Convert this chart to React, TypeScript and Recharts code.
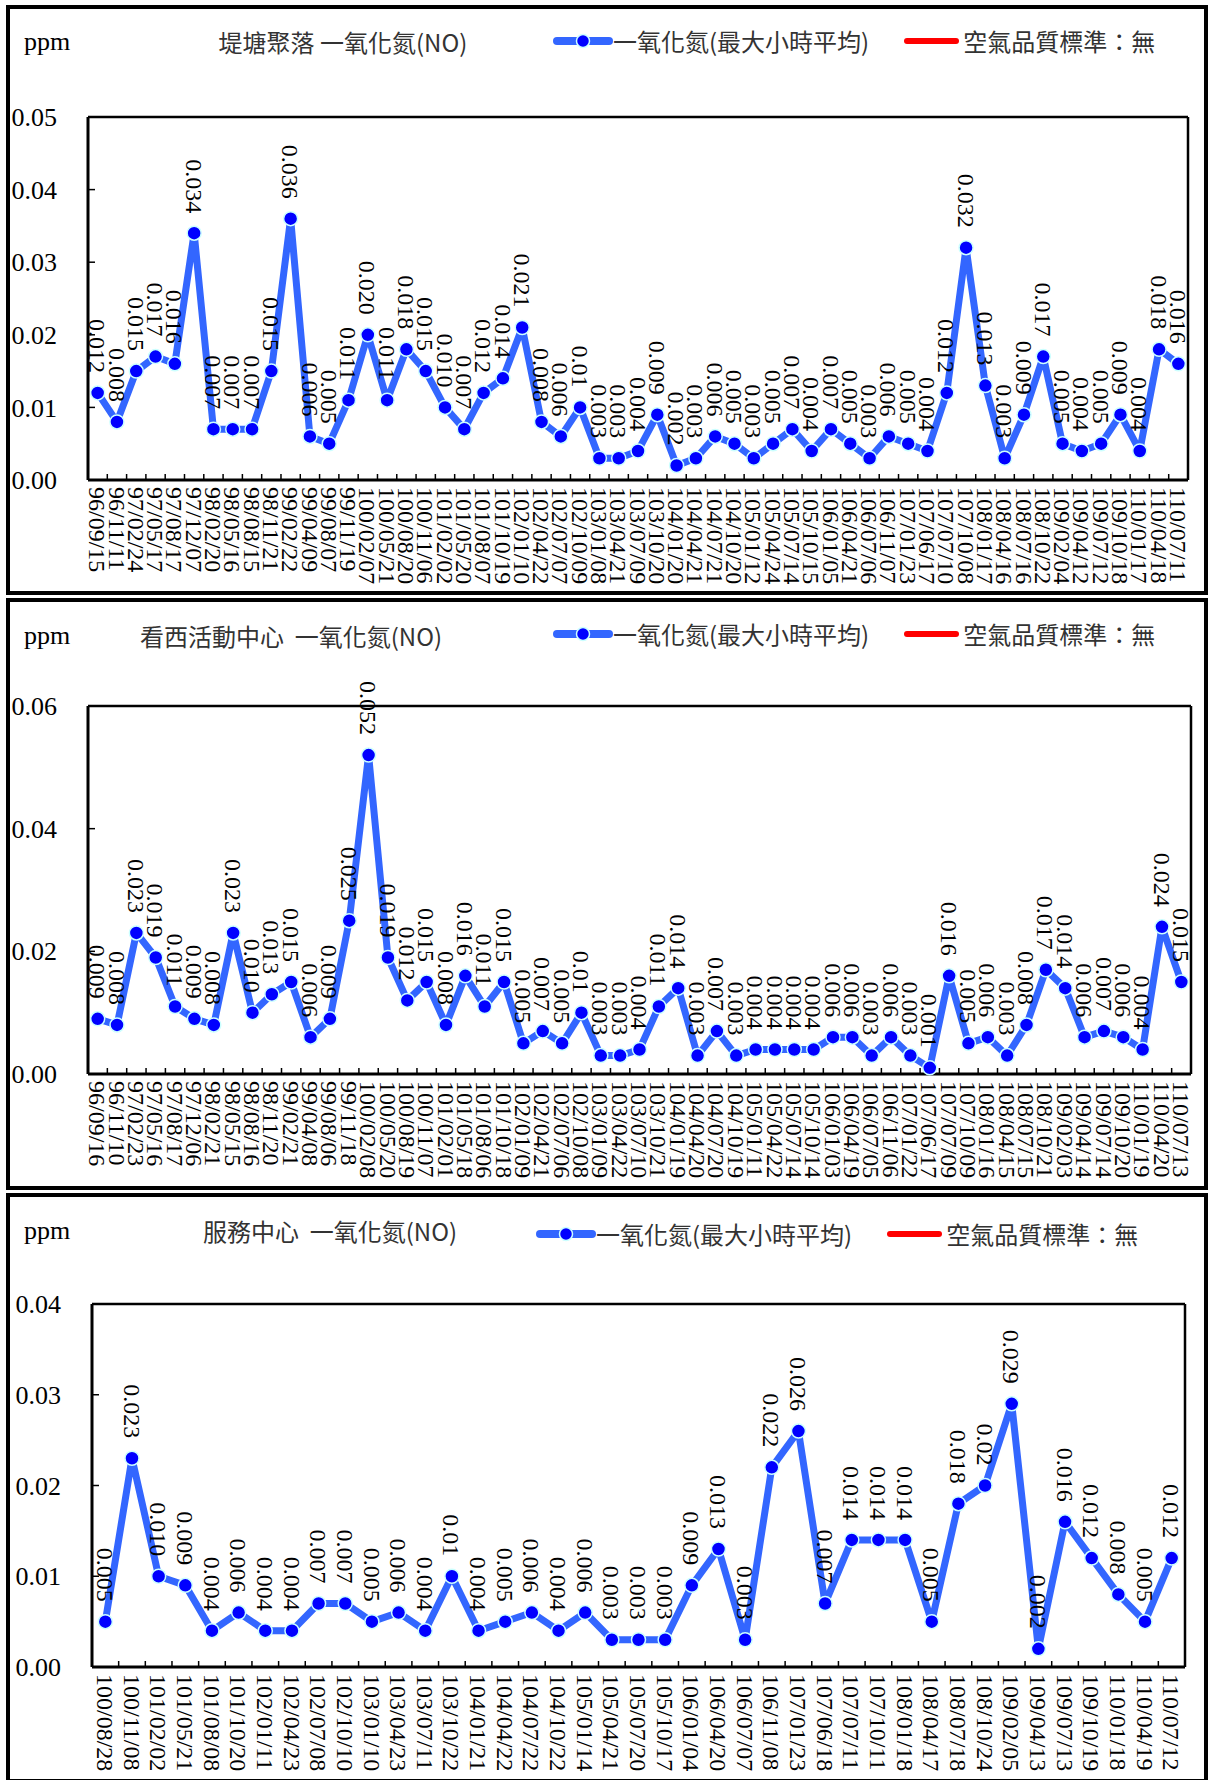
import React from 'react';
import { LineChart, Line, XAxis, YAxis, Legend, LabelList } from 'recharts';

// 堤塘聚落
const dates1 = [
  '96/09/15', '96/11/11', '97/02/24', '97/05/17', '97/08/17', '97/12/07', '98/02/20', '98/05/16',
  '98/08/15', '98/11/21', '99/02/22', '99/04/09', '99/08/07', '99/11/19', '100/02/07', '100/05/21',
  '100/08/20', '100/11/06', '101/02/02', '101/05/20', '101/08/07', '101/10/19', '102/01/10', '102/04/22',
  '102/07/07', '102/10/09', '103/01/08', '103/04/21', '103/07/09', '103/10/20', '104/01/20', '104/04/21',
  '104/07/21', '104/10/20', '105/01/12', '105/04/24', '105/07/14', '105/10/15', '106/01/05', '106/04/21',
  '106/07/06', '106/11/07', '107/01/23', '107/06/17', '107/07/10', '107/10/08', '108/01/17', '108/04/16',
  '108/07/16', '108/10/22', '109/02/04', '109/04/12', '109/07/12', '109/10/18', '110/01/17', '110/04/18',
  '110/07/11',
];
const no1 = [
  '0.012', '0.008', '0.015', '0.017', '0.016', '0.034', '0.007', '0.007', '0.007', '0.015', '0.036',
  '0.006', '0.005', '0.011', '0.020', '0.011', '0.018', '0.015', '0.010', '0.007', '0.012', '0.014',
  '0.021', '0.008', '0.006', '0.01', '0.003', '0.003', '0.004', '0.009', '0.002', '0.003', '0.006',
  '0.005', '0.003', '0.005', '0.007', '0.004', '0.007', '0.005', '0.003', '0.006', '0.005', '0.004',
  '0.012', '0.032', '0.013', '0.003', '0.009', '0.017', '0.005', '0.004', '0.005', '0.009', '0.004',
  '0.018', '0.016',
];

// 看西活動中心
const dates2 = [
  '96/09/16', '96/11/10', '97/02/23', '97/05/16', '97/08/17', '97/12/06', '98/02/21', '98/05/15',
  '98/08/16', '98/11/20', '99/02/21', '99/04/08', '99/08/06', '99/11/18', '100/02/08', '100/05/20',
  '100/08/19', '100/11/07', '101/02/01', '101/05/18', '101/08/06', '101/10/18', '102/01/09', '102/04/21',
  '102/07/06', '102/10/08', '103/01/09', '103/04/22', '103/07/10', '103/10/21', '104/01/19', '104/04/20',
  '104/07/20', '104/10/19', '105/01/11', '105/04/22', '105/07/14', '105/10/14', '106/01/03', '106/04/19',
  '106/07/05', '106/11/06', '107/01/22', '107/06/17', '107/07/09', '107/10/09', '108/01/16', '108/04/15',
  '108/07/15', '108/10/21', '109/02/03', '109/04/14', '109/07/14', '109/10/20', '110/01/19', '110/04/20',
  '110/07/13',
];
const no2 = [
  '0.009', '0.008', '0.023', '0.019', '0.011', '0.009', '0.008', '0.023', '0.010', '0.013', '0.015',
  '0.006', '0.009', '0.025', '0.052', '0.019', '0.012', '0.015', '0.008', '0.016', '0.011', '0.015',
  '0.005', '0.007', '0.005', '0.01', '0.003', '0.003', '0.004', '0.011', '0.014', '0.003', '0.007',
  '0.003', '0.004', '0.004', '0.004', '0.004', '0.006', '0.006', '0.003', '0.006', '0.003', '0.001',
  '0.016', '0.005', '0.006', '0.003', '0.008', '0.017', '0.014', '0.006', '0.007', '0.006', '0.004',
  '0.024', '0.015',
];

// 服務中心
const dates3 = [
  '100/08/28', '100/11/08', '101/02/02', '101/05/21', '101/08/08', '101/10/20', '102/01/11', '102/04/23',
  '102/07/08', '102/10/10', '103/01/10', '103/04/23', '103/07/11', '103/10/22', '104/01/21', '104/04/22',
  '104/07/22', '104/10/22', '105/01/14', '105/04/21', '105/07/20', '105/10/17', '106/01/04', '106/04/20',
  '106/07/07', '106/11/08', '107/01/23', '107/06/18', '107/07/11', '107/10/11', '108/01/18', '108/04/17',
  '108/07/18', '108/10/24', '109/02/05', '109/04/13', '109/07/13', '109/10/19', '110/01/18', '110/04/19',
  '110/07/12',
];
const no3 = [
  '0.005', '0.023', '0.010', '0.009', '0.004', '0.006', '0.004', '0.004', '0.007', '0.007', '0.005',
  '0.006', '0.004', '0.01', '0.004', '0.005', '0.006', '0.004', '0.006', '0.003', '0.003', '0.003',
  '0.009', '0.013', '0.003', '0.022', '0.026', '0.007', '0.014', '0.014', '0.014', '0.005', '0.018',
  '0.02', '0.029', '0.002', '0.016', '0.012', '0.008', '0.005', '0.012',
];

const yTicks1 = [0, 0.01, 0.02, 0.03, 0.04, 0.05];
const yTicks2 = [0, 0.02, 0.04, 0.06];
const yTicks3 = [0, 0.01, 0.02, 0.03, 0.04];

const titles = ['堤塘聚落 一氧化氮(NO)', '看西活動中心  一氧化氮(NO)', '服務中心  一氧化氮(NO)'];
const seriesName = '一氧化氮(最大小時平均)';
const standardName = '空氣品質標準：無';

const SERIF = "'Liberation Serif', 'Times New Roman', serif";
const CJK = "'Noto Sans CJK TC', 'Noto Sans CJK JP', sans-serif";
const LINE_BLUE = '#3366FF';
const DOT_BLUE = '#0000FF';
const STD_RED = '#FF0000';
const CHART_W = 1194;

function renderLegend(props: any) {
  const { payload } = props;
  return (
    <div style={{ display: 'flex', alignItems: 'center', fontFamily: CJK, fontSize: 24, color: '#333', whiteSpace: 'nowrap', lineHeight: '32px' }}>
      {(payload || []).map((entry: any, i: number) => (
        <div key={i} style={{ display: 'flex', alignItems: 'center', marginLeft: i ? 35 : 0 }}>
          {i === 0 ? (
            <svg width={60} height={20} style={{ display: 'block' }}>
              <line x1={4} x2={56} y1={10} y2={10} stroke={entry.color} strokeWidth={8} strokeLinecap="round" />
              <circle cx={30} cy={10} r={6.5} fill={DOT_BLUE} stroke="#CCFFFF" strokeWidth={1.5} />
            </svg>
          ) : (
            <svg width={59} height={20} style={{ display: 'block' }}>
              <line x1={3} x2={52} y1={10} y2={10} stroke={entry.color} strokeWidth={6} strokeLinecap="round" />
            </svg>
          )}
          <span>{entry.value}</span>
        </div>
      ))}
    </div>
  );
}

function renderValueLabel(props: any) {
  const vb = props.viewBox || {};
  const x = props.x ?? vb.x;
  const y = props.y ?? vb.y;
  if (x == null || y == null) return null;
  return (
    <text
      transform={`translate(${x},${y - 20}) rotate(90)`}
      dy="0.35em"
      textAnchor="end"
      fontSize={24}
      fontFamily={SERIF}
      fill="#000"
    >
      {props.value}
    </text>
  );
}

interface PanelProps {
  top: number;
  height: number;
  dates: string[];
  values: string[];
  yTicks: number[];
  title: string;
  plot: { left: number; right: number; top: number; bottom: number };
  titleX: number;
  headY: number;
  legendX: number;
  legendY: number;
}

function Panel({ top, height, dates, values, yTicks, title, plot, titleX, headY, legendX, legendY }: PanelProps) {
  const h = height - 8;
  const data = dates.map((d, i) => ({ date: d, no: Number(values[i]), label: values[i] }));
  const band = (plot.right - plot.left) / dates.length;
  const yMax = yTicks[yTicks.length - 1];

  const xTick = (p: any) => {
    const { x, y, payload } = p;
    return (
      <g>
        <line x1={x + band / 2} x2={x + band / 2} y1={y} y2={y - 6} stroke="#000" strokeWidth={1.5} />
        <text transform={`translate(${x},${y + 7}) rotate(90)`} dy="0.35em" textAnchor="start" fontSize={24} fontFamily={SERIF} fill="#000">
          {payload.value}
        </text>
      </g>
    );
  };

  const yTick = (p: any) => {
    const { x, y, payload } = p;
    return (
      <g>
        <line x1={x} x2={x + 7} y1={y} y2={y} stroke="#000" strokeWidth={1.5} />
        <text x={x - 31} y={y} dy="0.35em" textAnchor="end" fontSize={26} fontFamily={SERIF} fill="#000">
          {Number(payload.value).toFixed(2)}
        </text>
      </g>
    );
  };

  return (
    <div
      style={{
        position: 'absolute',
        left: 6,
        top,
        width: 1202,
        height,
        border: '4px solid #000',
        boxSizing: 'border-box',
        background: '#fff',
      }}
    >
      <div style={{ position: 'absolute', left: 14, top: headY - 16, lineHeight: '32px', fontFamily: SERIF, fontSize: 26, color: '#000' }}>ppm</div>
      <div
        style={{
          position: 'absolute',
          left: titleX,
          top: headY - 16,
          transform: 'translateX(-50%)',
          lineHeight: '32px',
          fontFamily: CJK,
          fontSize: 24,
          color: '#333',
          whiteSpace: 'pre',
        }}
      >
        {title}
      </div>
      <div style={{ position: 'absolute', left: 0, top: 0 }}>
        <LineChart
          width={CHART_W}
          height={h}
          data={data}
          margin={{ top: plot.top - 1, right: CHART_W - plot.right - 1, left: 0, bottom: 0 }}
        >
          <XAxis
            dataKey="date"
            scale="point"
            interval={0}
            height={h - plot.bottom}
            padding={{ left: band / 2, right: band / 2 }}
            axisLine={{ stroke: '#000', strokeWidth: 3 }}
            tickLine={false}
            tickSize={0}
            tickMargin={0}
            tick={xTick}
          />
          <XAxis
            xAxisId="top"
            dataKey="date"
            scale="point"
            orientation="top"
            height={1}
            padding={{ left: band / 2, right: band / 2 }}
            axisLine={{ stroke: '#000', strokeWidth: 2.5 }}
            tickLine={false}
            tick={false}
          />
          <YAxis
            width={plot.left}
            domain={[0, yMax]}
            ticks={yTicks}
            interval={0}
            axisLine={{ stroke: '#000', strokeWidth: 3 }}
            tickLine={false}
            tickSize={0}
            tickMargin={0}
            tick={yTick}
          />
          <YAxis
            yAxisId="right"
            orientation="right"
            width={1}
            domain={[0, yMax]}
            axisLine={{ stroke: '#000', strokeWidth: 2.5 }}
            tickLine={false}
            tick={false}
          />
          <Legend
            layout="horizontal"
            verticalAlign="middle"
            align="center"
            content={renderLegend}
            wrapperStyle={{ left: legendX, top: legendY - 16, width: 'auto' }}
          />
          <Line
            type="linear"
            dataKey="no"
            name={seriesName}
            stroke={LINE_BLUE}
            strokeWidth={7}
            strokeLinejoin="round"
            dot={{ r: 7, fill: DOT_BLUE, stroke: '#CCFFFF', strokeWidth: 1.5 }}
            activeDot={false}
            isAnimationActive={false}
          >
            <LabelList dataKey="label" content={renderValueLabel} />
          </Line>
          <Line
            xAxisId="top"
            yAxisId="right"
            dataKey="standard"
            name={standardName}
            stroke={STD_RED}
            strokeWidth={5}
            dot={false}
            activeDot={false}
            isAnimationActive={false}
          />
        </LineChart>
      </div>
    </div>
  );
}

export default function App() {
  return (
    <div style={{ position: 'absolute', left: 0, top: 0, width: 1209, height: 1780, overflow: 'hidden', background: '#fff' }}>
      <Panel
        top={5}
        height={590}
        dates={dates1}
        values={no1}
        yTicks={yTicks1}
        title={titles[0]}
        plot={{ left: 78, right: 1178, top: 108, bottom: 471 }}
        titleX={333}
        headY={33}
        legendX={543}
        legendY={32}
      />
      <Panel
        top={598}
        height={592}
        dates={dates2}
        values={no2}
        yTicks={yTicks2}
        title={titles[1]}
        plot={{ left: 78, right: 1181, top: 104, bottom: 472 }}
        titleX={281}
        headY={34}
        legendX={543}
        legendY={32}
      />
      <Panel
        top={1193}
        height={590}
        dates={dates3}
        values={no3}
        yTicks={yTicks3}
        title={titles[2]}
        plot={{ left: 82, right: 1175, top: 107, bottom: 470 }}
        titleX={320}
        headY={34}
        legendX={526}
        legendY={37}
      />
    </div>
  );
}
